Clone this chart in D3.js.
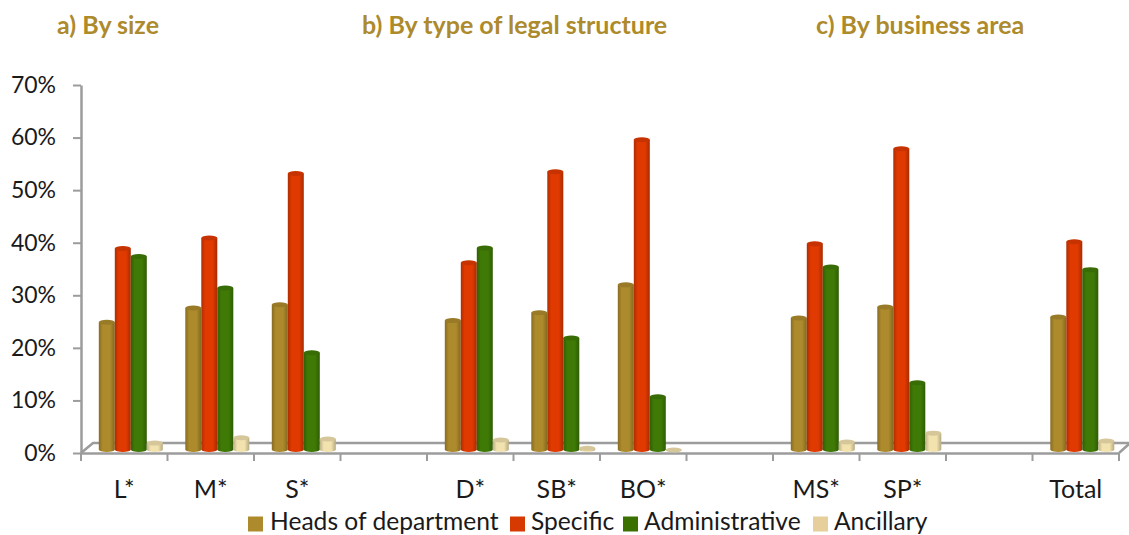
<!DOCTYPE html>
<html>
<head>
<meta charset="utf-8">
<script src="https://cdn.jsdelivr.net/npm/d3@7"></script>
<style>
  html, body { margin: 0; padding: 0; background: #fff; }
  svg { display: block; }
  text { font-family: Lato, "Open Sans", sans-serif; fill: #1a1a1a; }
</style>
</head>
<body>
<div id="chart"></div>
<script>
// values, null = empty slot between the groups
var categories = ["L*", "M*", "S*", "", "D*", "SB*", "BO*", "", "MS*", "SP*", "", "Total"];
var heads = [24.5, 27.2, 27.8, null, 24.8, 26.3, 31.6, null, 25.3, 27.4, null, 25.5];
var specific = [38.5, 40.5, 52.8, null, 35.8, 53.1, 59.2, null, 39.4, 57.5, null, 39.8];
var administrative = [37, 31, 18.7, null, 38.6, 21.5, 10.3, null, 35, 13, null, 34.5];
var ancillary = [1.5, 2.5, 2.3, null, 2.1, 0.5, 0.2, null, 1.7, 3.4, null, 1.9];

var seriesNames = ["Heads of department", "Specific", "Administrative", "Ancillary"];
var seriesValues = [heads, specific, administrative, ancillary];
var seriesColors = ["#ad8a2c", "#e03a00", "#3f7a06", "#f2e2ae"];
var legendColors = ["#ad8a2c", "#d63a00", "#3a7000", "#e6cf9a"];

var yTicks = [0, 10, 20, 30, 40, 50, 60, 70];
var titles = ["a) By size", "b) By type of legal structure", "c) By business area"];

var width = 1129, height = 535;

var svg = d3.select("#chart").append("svg")
    .attr("width", width)
    .attr("height", height);

var x = d3.scaleBand()
    .domain(d3.range(categories.length))
    .range([81, 1119]);

var inner = d3.scaleBand()
    .domain(seriesNames)
    .range([17.8, 81.8]);

var y = d3.scaleLinear()
    .domain([0, 70])
    .range([453, 85]);

var axisGrey = "#9c9c9c";
var depthX = 12, depthY = 10;   // fake 3d floor
var baseShift = 2;              // bars stand a little behind the front edge

// gradients for the cylinders
var defs = svg.append("defs");
seriesColors.forEach(function (c, i) {
    var g = defs.append("linearGradient").attr("id", "bar-" + i);
    g.append("stop").attr("offset", "0%").attr("stop-color", d3.rgb(c).darker(0.7));
    g.append("stop").attr("offset", "25%").attr("stop-color", c);
    g.append("stop").attr("offset", "70%").attr("stop-color", c);
    g.append("stop").attr("offset", "100%").attr("stop-color", d3.rgb(c).darker(0.8));
});

// floor
svg.append("path")
    .attr("d", "M81," + y(0) + "L" + (81 + depthX) + "," + (y(0) - depthY) + "H" + width)
    .attr("fill", "none")
    .attr("stroke", axisGrey)
    .attr("stroke-width", 2.5);
svg.append("path")
    .attr("d", "M1119," + y(0) + "L" + width + "," + (y(0) - depthY + 1))
    .attr("fill", "none")
    .attr("stroke", axisGrey)
    .attr("stroke-width", 2.5);

// axes
var yAxis = svg.append("g")
    .attr("transform", "translate(81,0)")
    .call(d3.axisLeft(y)
        .tickValues(yTicks)
        .tickFormat(function (d) { return d + "%"; })
        .tickSize(8)
        .tickSizeOuter(0)
        .tickPadding(17));

var xAxis = svg.append("g")
    .attr("transform", "translate(0," + y(0) + ")")
    .call(d3.axisBottom(x)
        .tickFormat(function (i) { return categories[i]; })
        .tickSize(0)
        .tickPadding(27));

// ticks sit on the band edges, not in the middle
xAxis.selectAll(".edge")
    .data(d3.range(categories.length + 1))
    .enter()
    .append("line")
    .attr("class", "edge")
    .attr("x1", function (i) { return i < categories.length ? x(i) : x(i - 1) + x.bandwidth(); })
    .attr("x2", function (i) { return i < categories.length ? x(i) : x(i - 1) + x.bandwidth(); })
    .attr("y1", 0)
    .attr("y2", 8);

[yAxis, xAxis].forEach(function (a, n) {
    a.selectAll("path.domain").attr("stroke", axisGrey).attr("stroke-width", 2.5);
    a.selectAll("line").attr("stroke", axisGrey).attr("stroke-width", 2);
    a.selectAll("text")
        .style("font-size", n == 0 ? "23px" : "25px")
        .style("font-family", "Lato, 'Open Sans', sans-serif")
        .attr("fill", "#1a1a1a");
});

// bars
seriesValues.forEach(function (values, s) {
    var name = seriesNames[s];
    var w = inner.bandwidth();
    var points = values
        .map(function (v, i) { return { i: i, v: v }; })
        .filter(function (d) { return d.v !== null; });

    var g = svg.append("g").attr("class", "series");

    g.selectAll("path")
        .data(points)
        .enter()
        .append("path")
        .attr("d", function (d) {
            var left = x(d.i) + inner(name);
            var top = y(d.v) - baseShift;
            var bottom = y(0) - baseShift;
            return "M" + left + "," + top + "V" + (bottom - 1.5) +
                "A" + (w / 2) + ",2.5 0 0 0 " + (left + w) + "," + (bottom - 1.5) +
                "V" + top + "Z";
        })
        .attr("fill", "url(#bar-" + s + ")");

    g.selectAll("ellipse")
        .data(points)
        .enter()
        .append("ellipse")
        .attr("cx", function (d) { return x(d.i) + inner(name) + w / 2; })
        .attr("cy", function (d) { return y(d.v) - baseShift; })
        .attr("rx", w / 2)
        .attr("ry", 2.5)
        .attr("fill", d3.rgb(seriesColors[s]).darker(0.35));
});

// titles
var titleX = [57, 362, 816];
svg.selectAll(".title")
    .data(titles)
    .enter()
    .append("text")
    .attr("class", "title")
    .attr("x", function (d, i) { return titleX[i]; })
    .attr("y", 34)
    .text(function (d) { return d; })
    .style("font-size", "25px")
    .style("font-weight", "bold")
    .style("fill", "#ad8a2c");

// legend
var legendX = [248, 510, 623, 813];
var legend = svg.selectAll(".legend")
    .data(seriesNames)
    .enter()
    .append("g")
    .attr("class", "legend")
    .attr("transform", function (d, i) { return "translate(" + legendX[i] + ",516.5)"; });
legend.append("rect")
    .attr("width", 15)
    .attr("height", 15)
    .attr("fill", function (d, i) { return legendColors[i]; });
legend.append("text")
    .attr("x", function (d, i) { return i == 0 ? 22 : 21; })
    .attr("y", 13)
    .text(function (d) { return d; })
    .style("font-size", "24.6px");
</script>
</body>
</html>
